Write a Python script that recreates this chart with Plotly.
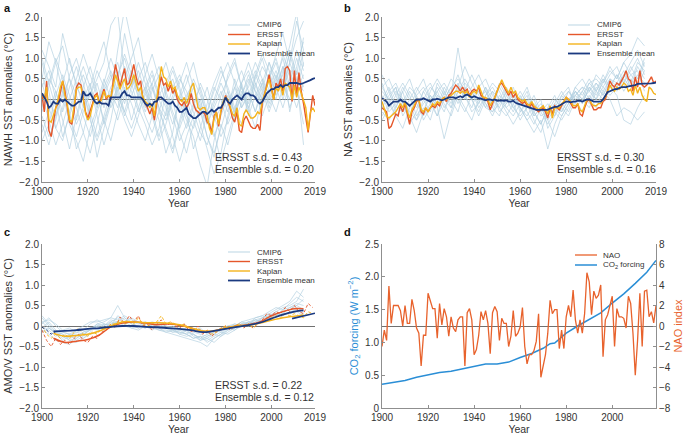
import plotly.graph_objects as go

# ---------------- data ----------------
YEARS = list(range(1900, 2020))
CMIP_YEARS = list(range(1900, 2015, 3))
X_TICKS = [1900, 1920, 1940, 1960, 1980, 2000, 2019]
X_TICKS_D = [1900, 1920, 1940, 1960, 1980, 2000]
SST_TICKS = [-2.0, -1.5, -1.0, -0.5, 0, 0.5, 1.0, 1.5, 2.0]
SST_TICK_TEXT = ["−2.0", "−1.5", "−1.0", "−0.5", "0", "0.5", "1.0", "1.5", "2.0"]
CO2_TICKS = [0, 0.5, 1.0, 1.5, 2.0, 2.5]
CO2_TICK_TEXT = ["0", "0.5", "1.0", "1.5", "2.0", "2.5"]
NAO_TICKS = [-8, -6, -4, -2, 0, 2, 4, 6, 8]
NAO_TICK_TEXT = ["−8", "−6", "−4", "−2", "0", "2", "4", "6", "8"]

# Panel a: NAWH SST anomalies
A_ERSST = [0.1, -0.3, 0.45, -0.75, -0.9, -0.5, -0.2, -0.1, 0.2, 0.45,
           0.2, -0.2, -0.55, -0.6, -0.3, 0.3, 0.4, 0.35, 0.0, -0.3,
           -0.45, -0.3, -0.1, 0.1, 0.15, -0.1, 0.05, 0.25, 0.0, 0.1,
           0.0, 0.4, 0.85, 0.6, 0.3, 0.55, 0.75, 0.35, 0.4, 0.6,
           0.85, 0.55, 0.35, 0.45, 0.0, -0.1, -0.2, -0.35, -0.2, -0.5,
           -0.1, 0.3, 0.55, 0.35, 0.4, 0.2, 0.35, 0.15, 0.25, 0.0,
           -0.1, -0.15, -0.05, -0.2, -0.1, 0.15, -0.1, -0.25, -0.3, -0.35,
           -0.3, -0.35, -0.55, -0.6, -0.8, -0.4, -0.3, -0.65, -0.3, -0.1,
           0.1, -0.05, -0.2, -0.45, -0.55, -0.3, -0.75, -0.8, -0.5, -0.4,
           -0.55, -0.65, -0.7, -0.7, -0.6, -0.75, -0.1, 0.1, 0.35, 0.6,
           0.3, 0.0, 0.4, 0.3, 0.5, 0.2, 0.75, 0.8, 0.7, -0.05,
           0.7, 0.1, 0.65, 0.2, -0.1, -0.5, -0.8, -0.35, 0.1, -0.15]
A_KAPLAN = [0.15, 0.0, 0.3, -0.5, -0.55, -0.4, -0.2, 0.0, 0.3, 0.45,
            0.1, -0.1, -0.5, -0.55, -0.2, 0.25, 0.3, 0.3, 0.0, -0.35,
            -0.5, -0.4, -0.15, 0.05, 0.1, -0.1, 0.0, 0.2, 0.05, 0.1,
            0.05, 0.3, 0.6, 0.45, 0.25, 0.4, 0.5, 0.25, 0.3, 0.4,
            0.6, 0.4, 0.2, 0.3, 0.05, -0.05, -0.1, -0.2, -0.1, -0.4,
            0.0, 0.4, 0.8, 0.55, 0.5, 0.3, 0.45, 0.25, 0.3, 0.1,
            0.0, -0.05, 0.05, -0.1, 0.05, 0.3, 0.4, 0.1, -0.2, -0.25,
            -0.2, -0.2, -0.4, -0.7, -0.85, -0.45, -0.3, -0.6, -0.25, -0.05,
            0.05, 0.0, -0.2, -0.35, -0.4, -0.2, -0.6, -0.65, -0.35, -0.25,
            -0.35, -0.45, -0.45, -0.4, -0.3, -0.35, -0.05, 0.1, 0.3, 0.5,
            0.25, 0.0, 0.3, 0.2, 0.35, 0.1, 0.4, 0.35, 0.3, 0.0,
            0.35, 0.05, 0.3, 0.15, 0.0, -0.2, -0.75, -0.3, -0.2, -0.3]
A_ENS = [0.15, 0.05, -0.05, -0.2, -0.15, -0.05, -0.1, -0.1, 0.0, -0.05,
         0.0, -0.05, -0.1, -0.15, -0.15, -0.1, -0.05, -0.05, 0.2, 0.1,
         0.1, 0.15, 0.05, -0.05, -0.1, -0.05, -0.1, -0.1, -0.1, -0.15,
         0.05, 0.05, 0.05, 0.05, 0.05, 0.15, 0.2, 0.1, 0.1, 0.05,
         0.05, 0.05, 0.05, 0.05, 0.0, -0.1, -0.15, -0.1, -0.15, -0.05,
         -0.05, 0.05, 0.05, 0.0, -0.05, -0.1, -0.1, -0.05, -0.15, -0.2,
         -0.3, -0.3, -0.25, -0.2, -0.35, -0.4, -0.45, -0.45, -0.4, -0.35,
         -0.3, -0.3, -0.35, -0.3, -0.25, -0.3, -0.25, -0.2, -0.2, -0.1,
         0.05, -0.05, -0.1, 0.0, 0.05, 0.1, 0.05, 0.0, 0.1, 0.15,
         0.15, 0.1, 0.1, 0.05, -0.05, -0.1, -0.05, 0.05, 0.15, 0.2,
         0.25, 0.25, 0.3, 0.3, 0.35, 0.3, 0.35, 0.35, 0.4, 0.4,
         0.4, 0.4, 0.38, 0.38, 0.4, 0.42, 0.45, 0.47, 0.5, 0.52]
A_CMIP6 = [
    [1.2, 0.8, 0.3, 1.6, 0.9, 0.4, -0.2, 0.1, 0.5, 0.9, 1.8, 2.1, 0.6, 0.2, -0.3, 0.1, 0.4, -0.2, -0.5, 0.0,
     -0.8, -1.3, -0.6, -0.2, 0.3, -0.4, -0.9, -0.5, 0.1, 0.4, -0.2, 0.3, 0.8, 0.5, 1.1, 1.6, 0.9, 1.9, 1.2],
    [-0.4, -0.9, -0.5, 0.2, -0.3, -1.2, -0.8, -0.1, 0.4, -0.2, 0.3, 0.6, 1.0, 0.4, -0.2, -0.6, -1.1, -0.7, 0.2, 0.5,
     -0.1, -0.5, -0.9, -1.6, -2.1, -1.0, -0.3, 0.2, -0.4, 0.1, 0.6, 0.2, -0.1, 0.5, 0.9, 0.3, 1.2, 0.6, 1.5],
    [0.5, 1.4, 0.9, 0.2, -0.6, -1.0, -1.5, -0.7, -0.2, 0.3, 0.7, 0.2, -0.4, 0.1, 0.5, 0.9, 0.3, -0.3, -0.7, -1.2,
     -0.5, 0.1, 0.4, -0.3, -0.9, -1.4, -0.6, -1.1, -0.4, 0.2, -0.2, -0.7, 0.1, 0.6, 0.2, 0.8, -0.3, 0.5, -1.1],
    [-0.8, -0.3, 0.2, -0.5, -1.2, -0.4, 0.3, 0.8, 0.2, -0.6, 0.0, 1.2, 2.2, 1.4, 0.5, -0.1, 0.4, 0.8, 0.1, -0.4,
     -1.0, -0.6, -0.1, 0.3, -0.3, 0.2, 0.7, 0.3, -0.2, -0.6, 0.0, 0.5, 1.0, 0.4, 0.0, 0.7, 1.3, 2.1, 0.8],
    [0.9, 0.2, -0.7, -0.2, 0.6, 1.0, 0.4, -0.3, -0.9, -0.4, 0.2, -0.2, 0.5, 1.0, 1.5, 0.6, 0.0, -0.5, -1.3, -0.8,
     0.1, 0.6, 0.0, -0.6, -1.2, -1.8, -1.3, -0.4, 0.3, 0.7, 0.2, -0.3, 0.2, 0.9, 0.3, -0.2, 0.4, 1.0, 0.5],
    [0.1, -0.5, -1.1, -0.6, 0.0, 0.5, 1.1, 0.6, 0.1, -0.5, -1.0, -0.3, 0.3, -0.1, -0.6, -1.0, -0.4, 0.4, 0.9, 0.3,
     -0.2, -0.7, -0.2, 0.4, 0.0, -0.5, -0.2, 0.6, 1.0, 0.3, -0.4, 0.1, 0.5, -0.1, 0.4, 1.1, 0.6, 0.2, 0.9],
    [-0.3, 0.3, 0.9, 1.3, 0.5, -0.2, -0.8, -1.3, -0.6, 0.1, 0.5, 0.9, 0.2, -0.5, 0.1, 0.6, 1.1, 0.5, -0.1, -0.6,
     0.0, 0.4, 0.9, 0.2, -0.4, -0.8, -1.5, -0.9, -0.3, 0.4, 0.9, 0.4, -0.2, 0.3, 0.7, 0.2, 0.9, 1.5, 1.9],
    [0.6, 0.0, -0.4, 0.4, 1.0, 0.3, 0.0, 0.4, -0.4, -1.1, -0.5, 0.4, 1.6, 0.8, 0.0, 0.3, -0.3, -0.9, -0.3, 0.3,
     0.6, 0.0, -0.5, -1.0, -0.3, 0.3, 0.0, -0.6, -0.2, 0.3, -0.3, 0.6, 1.1, 0.7, 0.1, 0.5, -0.2, 0.3, -0.6],
    [-1.0, -0.6, 0.1, 0.6, 0.1, -0.5, 0.2, -0.4, -1.4, -0.7, -0.1, 0.3, -0.3, -0.7, -0.2, 0.3, 0.7, 0.1, 0.4, 0.8,
     0.3, -0.3, -1.2, -0.7, -0.1, 0.4, 0.8, 0.2, -0.3, 0.1, 0.5, 0.0, 0.4, -0.2, 0.3, 0.8, 0.2, 0.7, 0.3],
    [0.3, 0.7, 0.0, -0.9, -0.4, 0.2, 0.6, 0.1, 0.7, 0.3, -0.2, 0.2, 0.8, 0.3, 0.9, 0.4, -0.2, 0.2, -0.2, -0.9,
     -1.5, -0.9, -0.4, 0.0, -0.6, -0.2, 0.2, -0.3, 0.5, 0.0, 0.3, 0.7, 0.3, 0.0, 0.5, 0.3, 0.9, 0.4, 1.2],
    [0.0, 0.4, 1.0, 0.5, -0.1, -0.6, -0.2, 0.3, 0.9, 1.4, 0.6, 0.0, -0.5, -0.9, -0.4, 0.2, 0.6, 0.0, -0.4, 0.1,
     0.5, 0.2, -0.3, -0.8, -1.1, -0.5, 0.1, 0.5, 0.9, 0.3, -0.1, 0.4, 0.0, 0.6, 1.0, 0.4, 0.0, 0.8, 1.4],
    [-0.6, -1.1, -0.4, 0.1, 0.5, 0.1, -0.4, -0.9, -0.3, 0.2, 0.6, 0.1, -0.3, 0.3, 0.7, 0.2, -0.4, -1.0, -0.6, 0.0,
     0.4, 0.9, 0.3, -0.2, -0.6, -0.1, 0.4, 0.0, -0.5, -0.1, 0.4, 0.9, 0.5, 0.1, -0.3, 0.3, 0.7, 0.2, 0.6],
    [0.4, -0.2, -0.7, -1.0, -0.3, 0.3, 0.8, 0.3, -0.2, 0.4, 1.0, 0.5, -0.1, 0.5, 0.1, -0.4, -0.8, -0.3, 0.3, 0.7,
     0.2, -0.4, -0.7, -0.2, -0.9, -1.3, -0.7, -0.1, 0.3, -0.2, 0.2, -0.3, 0.4, 0.9, 0.5, 1.0, 0.3, -0.2, 0.4],
    [-0.2, 0.5, 0.2, -0.3, 0.3, 0.8, 0.2, -0.5, -1.0, -0.5, 0.0, 0.6, 1.1, 0.6, 0.2, -0.3, 0.2, 0.6, 0.2, -0.3,
     -0.7, -0.2, 0.3, -0.1, -0.5, 0.0, 0.5, 0.9, 0.4, -0.2, 0.1, 0.6, 0.2, -0.3, 0.2, 0.6, 1.1, 0.5, 0.2],
    [1.0, 0.4, -0.2, 0.3, -0.4, -0.9, -0.3, 0.2, -0.1, 0.5, 0.0, -0.5, 0.1, 0.7, 0.3, -0.2, 0.3, -0.2, -0.8, -1.3,
     -0.6, 0.0, 0.5, 0.1, -0.4, -0.9, -0.4, 0.1, -0.3, 0.4, 0.7, 0.2, -0.4, 0.1, 0.6, 0.0, 0.5, 1.2, 0.7],
]

# Panel b: NA SST anomalies
B_ERSST = [-0.2, -0.25, -0.3, -0.7, -0.65, -0.5, -0.35, -0.4, -0.15, -0.3,
           -0.1, -0.35, -0.6, -0.3, -0.2, -0.05, 0.0, -0.3, -0.35, -0.2,
           -0.3, -0.2, -0.15, -0.2, -0.1, -0.15, 0.0, 0.05, -0.05, 0.1,
           0.15, 0.25, 0.35, 0.3, 0.2, 0.3, 0.2, 0.25, 0.1, 0.2,
           0.25, 0.2, 0.3, 0.1, 0.05, 0.0, -0.05, -0.25, -0.1, 0.0,
           0.15, 0.35, 0.4, 0.3, 0.2, 0.1, 0.2, 0.05, 0.15, 0.0,
           -0.05, -0.1, -0.05, -0.15, -0.2, -0.1, -0.2, -0.25, -0.3, -0.25,
           -0.2, -0.3, -0.45, -0.2, -0.35, -0.15, -0.2, -0.25, -0.15, -0.05,
           0.05, 0.0, -0.1, -0.2, -0.2, -0.1, -0.35, -0.4, -0.2, -0.05,
           0.0, -0.15, -0.25, -0.25, -0.2, -0.2, -0.05, 0.0, 0.2, 0.45,
           0.35, 0.3, 0.4, 0.35, 0.45, 0.55, 0.7, 0.5, 0.45, 0.2,
           0.55, 0.3, 0.7, 0.35, 0.3, 0.35, 0.45, 0.55, 0.4, 0.45]
B_KAPLAN = [-0.05, -0.2, -0.4, -0.45, -0.4, -0.35, -0.3, -0.2, -0.1, -0.2,
            -0.05, -0.3, -0.45, -0.25, -0.15, 0.0, 0.0, -0.25, -0.3, -0.2,
            -0.3, -0.2, -0.1, -0.15, -0.05, -0.1, 0.0, 0.05, 0.0, 0.05,
            0.1, 0.15, 0.2, 0.2, 0.15, 0.2, 0.15, 0.2, 0.05, 0.15,
            0.2, 0.15, 0.35, 0.2, 0.05, 0.05, 0.0, -0.15, -0.05, 0.05,
            0.2, 0.35, 0.48, 0.35, 0.25, 0.15, 0.3, 0.15, 0.2, 0.05,
            0.0, -0.05, 0.0, -0.1, -0.15, -0.05, -0.15, -0.2, -0.25, -0.2,
            -0.15, -0.25, -0.35, -0.15, -0.45, -0.2, -0.2, -0.2, -0.1, -0.05,
            0.05, 0.0, -0.05, -0.15, -0.15, -0.1, -0.25, -0.3, -0.15, 0.0,
            0.0, -0.1, -0.15, -0.15, -0.1, -0.1, 0.0, 0.05, 0.2, 0.35,
            0.25, 0.2, 0.3, 0.25, 0.3, 0.4, 0.35, 0.2, 0.25, 0.1,
            0.35, 0.15, 0.3, 0.1, 0.0, -0.05, 0.3, 0.25, 0.15, 0.12]
B_ENS = [0.03, 0.0, -0.05, -0.15, -0.1, -0.05, -0.05, -0.05, 0.0, -0.05,
         -0.05, -0.1, -0.15, -0.1, -0.05, 0.0, 0.0, 0.0, 0.03, 0.0,
         -0.03, -0.05, 0.0, 0.0, 0.02, 0.0, -0.02, 0.0, 0.02, 0.05,
         0.05, 0.05, 0.03, 0.05, 0.08, 0.05, 0.1, 0.12, 0.08, 0.05,
         0.08, 0.05, 0.03, 0.02, 0.0, -0.02, 0.0, 0.0, -0.02, 0.0,
         -0.03, -0.02, -0.02, -0.03, -0.02, -0.05, -0.05, -0.03, -0.08, -0.1,
         -0.12, -0.13, -0.15, -0.18, -0.2, -0.22, -0.23, -0.25, -0.25, -0.25,
         -0.25, -0.25, -0.25, -0.22, -0.2, -0.18, -0.18, -0.15, -0.12, -0.08,
         -0.05, -0.05, -0.07, -0.05, -0.05, -0.03, -0.03, -0.05, -0.02, 0.0,
         0.0, -0.02, -0.05, -0.05, -0.05, -0.05, 0.0, 0.1, 0.18, 0.2,
         0.22, 0.25, 0.25, 0.28, 0.3, 0.3, 0.3, 0.32, 0.33, 0.35,
         0.35, 0.38, 0.38, 0.38, 0.38, 0.38, 0.38, 0.39, 0.4, 0.41]
B_CMIP6 = [
    [0.6, 0.2, -0.3, -0.1, 0.3, 0.1, -0.5, -0.2, 0.2, 0.4, 0.1, 1.25, 0.3, 0.0, -0.3, 0.1, 0.4, 0.2, -0.2, -0.4,
     -0.1, 0.2, -0.3, -0.6, -0.2, 0.1, -0.3, 0.0, 0.2, -0.1, 0.3, 0.1, 0.4, 0.7, 0.5, 0.9, 1.1, 1.5, 1.3],
    [-0.3, -0.5, -0.2, 0.2, -0.4, -0.8, -0.3, 0.1, -0.2, -0.95, -0.3, 0.2, 0.5, 0.2, -0.1, 0.3, -0.2, -0.4, 0.1, 0.3,
     -0.2, -0.5, -0.8, -0.5, -1.2, -0.6, -0.2, -0.4, 0.0, -0.3, 0.1, -0.2, 0.2, 0.5, 0.3, 0.6, 0.9, 1.2, 0.8],
    [0.3, 0.5, 0.1, -0.3, 0.0, 0.3, 0.0, -0.3, 0.4, 0.1, 0.5, 0.3, 0.8, 0.4, 0.1, -0.2, 0.2, 0.0, -0.3, -0.6,
     -0.3, 0.0, -0.4, -0.2, -0.5, -0.9, -0.4, -0.1, 0.1, 0.3, 0.0, 0.4, 0.2, 0.0, -0.4, -0.2, -0.3, -0.5, -0.3],
    [-0.1, 0.2, 0.4, 0.0, -0.6, -0.3, 0.2, 0.4, 0.0, -0.3, 0.2, 0.6, 0.1, -0.2, 0.3, 0.5, 0.1, -0.2, 0.2, -0.1,
     -0.5, -0.2, 0.1, -0.3, -0.1, -0.4, 0.1, 0.3, -0.2, 0.0, 0.4, 0.5, 0.3, 0.6, 0.8, 0.4, 0.7, 1.0, 0.6],
    [0.4, -0.1, -0.4, -0.7, -0.2, 0.2, 0.5, 0.0, -0.4, 0.0, 0.3, -0.1, 0.2, 0.6, 0.2, -0.1, -0.4, 0.0, 0.3, 0.0,
     -0.2, -0.4, -0.1, -0.3, -0.6, -0.3, -0.5, -0.2, 0.2, 0.0, -0.2, 0.2, 0.6, 0.3, 0.1, -0.5, -0.6, -0.2, 0.1],
    [0.0, 0.3, -0.2, 0.2, 0.5, 0.0, -0.3, 0.2, 0.5, 0.2, -0.2, 0.4, 0.0, 0.3, 0.6, 0.2, -0.2, 0.3, 0.0, -0.3,
     0.1, -0.3, -0.6, -0.2, -0.4, -0.1, 0.2, -0.1, 0.3, 0.5, 0.2, 0.6, 0.4, 0.8, 0.5, 0.9, 0.6, 0.4, 0.9],
    [-0.5, -0.2, 0.1, 0.4, 0.1, -0.4, -0.1, 0.1, -0.2, 0.3, 0.0, -0.3, 0.3, 0.0, -0.4, 0.0, 0.2, -0.3, -0.1, 0.2,
     -0.3, -0.1, -0.5, -0.8, -0.3, 0.0, -0.2, 0.2, -0.1, 0.2, 0.5, 0.2, 0.0, 0.3, 0.6, 0.2, 0.5, 0.3, 0.7],
    [0.2, 0.0, 0.3, -0.4, -0.1, -0.5, -0.2, -0.5, 0.1, -0.1, -0.4, 0.1, -0.2, -0.5, 0.0, 0.2, -0.1, 0.4, 0.1, -0.2,
     0.0, 0.3, -0.2, 0.0, -0.7, -0.4, -0.1, -0.3, 0.1, -0.1, 0.3, 0.0, 0.5, 0.2, 0.4, 0.7, 0.3, 0.8, 0.5],
    [0.1, -0.3, -0.1, 0.3, 0.0, -0.2, 0.2, -0.1, -0.4, 0.2, -0.1, 0.3, 0.1, -0.3, -0.1, 0.3, 0.0, -0.2, -0.4, -0.1,
     0.2, -0.1, -0.3, -0.1, -0.4, -0.2, 0.1, -0.1, 0.3, 0.1, 0.4, 0.2, 0.5, 0.3, 0.6, 0.4, 0.8, 0.5, 1.0],
    [-0.2, 0.1, 0.3, -0.2, -0.4, 0.1, 0.3, 0.0, 0.2, -0.2, 0.1, 0.0, -0.3, 0.1, 0.2, -0.2, -0.3, 0.1, -0.1, 0.1,
     -0.2, -0.5, -0.3, -0.6, -0.2, -0.3, 0.0, 0.2, 0.0, 0.2, -0.1, 0.3, 0.1, 0.4, 0.2, 0.5, 0.3, 0.6, 0.4],
    [0.3, 0.0, -0.4, -0.2, 0.2, -0.1, -0.4, -0.1, 0.3, 0.0, 0.3, 0.5, 0.2, 0.0, 0.2, -0.1, -0.3, -0.1, 0.2, -0.2,
     -0.4, -0.2, 0.0, -0.4, -0.3, -0.1, -0.3, 0.0, 0.1, 0.3, 0.2, 0.0, 0.3, 0.1, 0.3, 0.6, 0.4, 0.9, 0.7],
    [-0.4, -0.1, 0.2, 0.0, -0.3, -0.5, 0.0, 0.3, 0.1, 0.0, -0.2, 0.2, 0.4, 0.2, -0.2, 0.1, 0.3, 0.0, -0.2, 0.0,
     -0.1, 0.1, -0.4, -0.2, -0.5, -0.2, -0.4, -0.1, 0.2, 0.0, 0.2, 0.4, 0.1, 0.5, 0.4, 0.3, 0.6, 0.7, 0.2],
]

# Panel c: AMO/V SST anomalies (low-pass filtered)
C_SMOOTH_YEARS = [1905, 1910, 1915, 1920, 1925, 1930, 1935, 1940, 1945, 1950, 1955, 1960,
                  1965, 1970, 1975, 1980, 1985, 1990, 1995, 2000, 2005, 2010, 2014]
C_ERSST_SMOOTH = [-0.3, -0.4, -0.37, -0.33, -0.22, -0.02, 0.07, 0.1, 0.07, 0.03, 0.05, 0.02,
                  -0.05, -0.13, -0.12, -0.05, 0.0, 0.03, 0.1, 0.25, 0.35, 0.42, 0.42]
C_KAPLAN_SMOOTH = [-0.18, -0.25, -0.23, -0.2, -0.12, 0.0, 0.1, 0.1, 0.08, 0.08, 0.07, 0.03,
                   -0.05, -0.12, -0.12, -0.05, 0.0, 0.02, 0.07, 0.14, 0.2, 0.24, 0.27]
C_ENS_SMOOTH = [-0.13, -0.12, -0.1, -0.07, -0.05, -0.02, 0.0, 0.0, -0.02, -0.03, -0.05, -0.07,
                -0.1, -0.15, -0.12, -0.07, -0.02, 0.02, 0.08, 0.18, 0.28, 0.35, 0.38]
C_DASH_YEARS = list(range(1900, 2020, 2))
C_ERSST_DASH = [-0.1, -0.35, -0.5, -0.3, -0.45, -0.35, -0.45, -0.3, -0.2, -0.35,
                -0.4, -0.25, -0.3, -0.15, -0.1, 0.05, -0.05, 0.22, 0.05, 0.25,
                0.1, 0.25, 0.0, 0.05, -0.1, 0.05, 0.15, -0.05, 0.1, 0.0,
                -0.05, 0.05, -0.1, -0.15, 0.0, -0.2, -0.1, -0.25, -0.15, -0.05,
                0.0, -0.1, 0.0, 0.05, -0.05, 0.05, -0.05, 0.05, 0.15, 0.3,
                0.25, 0.35, 0.3, 0.45, 0.35, 0.5, 0.35, 0.3, 0.55, 0.45]
C_KAPLAN_DASH = [0.0, -0.2, -0.3, -0.2, -0.3, -0.2, -0.3, -0.15, -0.05, -0.2,
                 -0.25, -0.15, -0.2, -0.05, -0.1, 0.05, 0.05, 0.15, 0.05, 0.1,
                 0.05, 0.2, 0.05, 0.0, 0.05, 0.1, 0.25, 0.05, 0.1, 0.05,
                 0.0, 0.05, -0.05, -0.1, -0.05, -0.15, -0.1, -0.2, -0.15, -0.05,
                 0.0, -0.05, 0.0, 0.05, 0.0, 0.05, -0.05, 0.05, 0.1, 0.2,
                 0.2, 0.25, 0.2, 0.3, 0.25, 0.3, 0.25, 0.2, 0.35, 0.3]
C_ENS_HEAD_YEARS = [1900, 1902, 1904, 1906]
C_ENS_HEAD = [-0.03, -0.1, -0.2, -0.14]
C_ENS_TAIL_YEARS = [2009, 2014, 2019]
C_ENS_TAIL = [0.18, 0.24, 0.31]
C_CMIP6 = [
    [0.2, 0.0, -0.2, -0.3, -0.2, -0.1, 0.0, 0.1, 0.1, 0.15, 0.2, 0.5, 0.2, 0.1, 0.05, 0.1, 0.0, 0.0, -0.05, -0.1,
     -0.15, -0.2, -0.1, -0.05, -0.2, -0.15, -0.05, 0.0, 0.05, 0.0, 0.1, 0.15, 0.2, 0.3, 0.4, 0.5, 0.6, 0.85, 0.7],
    [-0.1, -0.2, -0.35, -0.4, -0.45, -0.3, -0.2, -0.1, 0.0, -0.05, 0.05, 0.1, 0.0, -0.05, -0.1, 0.0, -0.05, -0.1, -0.15, -0.2,
     -0.25, -0.3, -0.35, -0.4, -0.5, -0.3, -0.2, -0.1, -0.05, 0.0, 0.05, 0.1, 0.15, 0.25, 0.3, 0.35, 0.4, 0.45, 0.35],
    [0.1, 0.15, 0.05, -0.1, -0.05, -0.15, -0.2, -0.1, 0.05, 0.1, 0.2, 0.15, 0.25, 0.15, 0.1, 0.05, 0.1, 0.05, -0.05, 0.0,
     -0.1, -0.05, -0.15, -0.2, -0.25, -0.2, -0.1, -0.05, 0.0, 0.05, 0.0, 0.1, 0.2, 0.25, 0.35, 0.45, 0.5, 0.6, 0.9],
    [-0.05, 0.1, -0.1, -0.2, -0.3, -0.25, -0.15, -0.05, -0.1, 0.0, 0.1, 0.05, 0.1, 0.2, 0.1, 0.0, -0.05, 0.05, 0.0, -0.1,
     -0.05, -0.15, -0.2, -0.3, -0.35, -0.25, -0.15, -0.2, -0.1, 0.0, 0.1, 0.05, 0.1, 0.2, 0.3, 0.25, 0.35, 0.4, 0.3],
    [0.25, 0.05, -0.15, -0.25, -0.35, -0.4, -0.3, -0.2, -0.15, 0.05, 0.0, 0.1, 0.2, 0.05, 0.0, -0.05, 0.05, 0.1, 0.0, -0.05,
     -0.1, -0.2, -0.3, -0.25, -0.3, -0.4, -0.25, -0.1, 0.0, 0.1, 0.15, 0.2, 0.25, 0.35, 0.45, 0.4, 0.55, 0.7, 0.6],
    [0.0, -0.1, -0.25, -0.15, -0.2, -0.35, -0.25, -0.05, 0.0, -0.1, 0.1, 0.2, 0.1, 0.0, -0.05, 0.05, 0.0, -0.1, -0.1, -0.15,
     -0.1, -0.1, -0.25, -0.35, -0.3, -0.2, -0.25, -0.15, -0.05, 0.05, 0.05, 0.15, 0.1, 0.2, 0.25, 0.3, 0.3, 0.35, 0.25],
    [-0.15, -0.05, -0.2, -0.35, -0.25, -0.15, -0.1, 0.05, 0.15, 0.05, 0.0, 0.1, 0.05, -0.05, 0.0, 0.1, 0.05, -0.05, -0.15, -0.1,
     -0.2, -0.25, -0.2, -0.3, -0.2, -0.1, -0.15, -0.05, 0.05, 0.0, 0.05, 0.2, 0.25, 0.2, 0.35, 0.3, 0.45, 0.5, 0.4],
    [0.1, -0.05, -0.15, -0.2, -0.35, -0.3, -0.15, -0.1, 0.05, 0.0, 0.15, 0.1, 0.05, 0.1, -0.05, 0.0, -0.1, 0.0, -0.05, -0.15,
     -0.15, -0.2, -0.3, -0.25, -0.4, -0.3, -0.2, -0.05, -0.1, 0.05, 0.1, 0.05, 0.2, 0.3, 0.25, 0.4, 0.45, 0.55, 0.5],
    [0.05, 0.2, 0.0, -0.15, -0.2, -0.2, -0.3, -0.15, 0.0, 0.05, 0.0, 0.25, 0.15, 0.05, 0.0, -0.05, 0.05, -0.05, 0.0, -0.05,
     -0.2, -0.1, -0.2, -0.35, -0.25, -0.15, -0.1, 0.0, 0.0, 0.1, 0.05, 0.15, 0.1, 0.2, 0.3, 0.35, 0.4, 0.5, 0.65],
]

# Panel d: NAO index and CO2 forcing
D_NAO = [-2.0, -0.4, -1.4, 3.9, 0.25, 2.0, 2.0, 2.0, 1.5, 0.0,
         2.0, 0.25, 0.25, 2.6, 1.5, -0.2, -0.7, -3.9, -0.9, -0.9,
         3.2, 2.5, 1.7, 1.7, -1.2, 2.2, 0.1, 1.7, 0.9, -1.0,
         0.9, -0.2, -0.55, 0.6, 0.9, 0.9, -3.9, 1.3, 1.7, 0.6,
         -2.8, -2.3, -0.9, 1.4, 0.6, 1.5, 0.25, -2.7, 1.3, 1.9,
         1.4, -1.4, 0.75, 0.25, 0.25, -2.0, -1.0, 1.5, -1.0, -0.7,
         -0.1, 1.8, -2.0, -3.7, -2.8, -2.8, -2.4, -1.5, 1.2, -5.0,
         -3.7, -2.8, -0.7, 2.5, 1.2, 1.6, 1.6, -2.2, -0.4, -2.2,
         0.9, 2.0, 0.9, 3.5, 0.6, -0.7, 0.6, -0.7, 1.2, 5.2,
         4.3, 1.1, 3.4, 2.7, 3.0, 4.0, -3.0, 0.6, 1.1, 2.0,
         2.9, -2.0, 1.7, 0.9, 0.9, 0.75, -0.2, 2.9, 2.2, -0.7,
         -4.8, -1.4, 3.2, -2.0, 3.4, 3.5, 0.9, 1.4, 0.3, 2.0]
D_CO2_YEARS = [1900, 1905, 1910, 1915, 1920, 1925, 1930, 1935, 1940, 1945, 1950, 1955, 1960,
               1965, 1970, 1973, 1975, 1980, 1985, 1990, 1995, 2000, 2005, 2010, 2015, 2019]
D_CO2 = [0.36, 0.39, 0.42, 0.47, 0.51, 0.54, 0.56, 0.60, 0.64, 0.67, 0.67, 0.70, 0.77,
         0.83, 0.91, 0.98, 0.99, 1.14, 1.25, 1.35, 1.45, 1.60, 1.74, 1.90, 2.07, 2.25]

# ---------------- styling ----------------
W, H = 685, 438
FONT = "Liberation Sans, Arial, sans-serif"
C_CMIP = "rgba(178,208,224,0.75)"
C_ERSST = "#e5572b"
C_KAPLAN = "#f4b31c"
C_ENS = "#1b3a80"
C_NAO = "#e8622c"
C_CO2 = "#2a8ed6"
AXIS_GREY = "#8f8f8f"
TXT = "#333333"

# panel boxes in pixels: (left, right), (top, bottom)
BOX = {
    "a": ((42, 315), (17, 182)),
    "b": ((382, 656), (17, 182)),
    "c": ((42, 315), (244, 408)),
    "d": ((382, 656), (244, 408)),
}


def xdom(p):
    l, r = BOX[p][0]
    return [l / W, r / W]


def ydom(p):
    t, b = BOX[p][1]
    return [1 - b / H, 1 - t / H]


def spaghetti(members, years):
    xs, ys = [], []
    for m in members:
        for yr, v in zip(years, m):
            xs.append(yr)
            ys.append(v)
        xs.append(None)
        ys.append(None)
    return xs, ys


fig = go.Figure()


def line(x, y, color, width, xa, ya, dash="solid", shape="linear", name=""):
    fig.add_trace(go.Scatter(x=x, y=y, mode="lines", name=name, showlegend=False,
                             line=dict(color=color, width=width, dash=dash, shape=shape),
                             xaxis=xa, yaxis=ya, hoverinfo="skip"))


# panel a
xs, ys = spaghetti(A_CMIP6, CMIP_YEARS)
line(xs, ys, C_CMIP, 0.9, "x", "y", name="CMIP6")
line(YEARS, A_ERSST, C_ERSST, 1.4, "x", "y", name="ERSST")
line(YEARS, A_KAPLAN, C_KAPLAN, 1.4, "x", "y", name="Kaplan")
line(YEARS, A_ENS, C_ENS, 1.8, "x", "y", name="Ensemble mean")

# panel b
xs, ys = spaghetti(B_CMIP6, CMIP_YEARS)
line(xs, ys, C_CMIP, 0.9, "x2", "y2", name="CMIP6")
line(YEARS, B_ERSST, C_ERSST, 1.4, "x2", "y2", name="ERSST")
line(YEARS, B_KAPLAN, C_KAPLAN, 1.4, "x2", "y2", name="Kaplan")
line(YEARS, B_ENS, C_ENS, 1.8, "x2", "y2", name="Ensemble mean")

# panel c
xs, ys = spaghetti(C_CMIP6, CMIP_YEARS)
line(xs, ys, C_CMIP, 0.9, "x3", "y3", name="CMIP6")
line(C_DASH_YEARS, C_ERSST_DASH, C_ERSST, 0.9, "x3", "y3", dash="3px,2px", name="ERSST")
line(C_DASH_YEARS, C_KAPLAN_DASH, C_KAPLAN, 0.9, "x3", "y3", dash="3px,2px", name="Kaplan")
line(C_ENS_HEAD_YEARS, C_ENS_HEAD, C_ENS, 1.0, "x3", "y3", dash="3px,2px", name="Ensemble mean")
line(C_SMOOTH_YEARS, C_ERSST_SMOOTH, C_ERSST, 1.5, "x3", "y3", shape="spline", name="ERSST")
line(C_SMOOTH_YEARS, C_KAPLAN_SMOOTH, C_KAPLAN, 1.5, "x3", "y3", shape="spline", name="Kaplan")
line(C_SMOOTH_YEARS, C_ENS_SMOOTH, C_ENS, 1.8, "x3", "y3", shape="spline", name="Ensemble mean")
line(C_ENS_TAIL_YEARS, C_ENS_TAIL, C_ENS, 1.6, "x3", "y3", name="Ensemble mean")

# panel d
line(YEARS, D_NAO, C_NAO, 1.3, "x4", "y5", name="NAO")
line(D_CO2_YEARS, D_CO2, C_CO2, 1.5, "x4", "y4", name="CO2 forcing")

common = dict(showline=True, linecolor=AXIS_GREY, linewidth=1, ticks="inside", ticklen=3,
              tickcolor=AXIS_GREY, tickwidth=1, showgrid=False, zeroline=False, automargin=False,
              tickfont=dict(family=FONT, size=10, color=TXT), fixedrange=True)


def xaxis(p, anchor, ticks):
    return dict(common, domain=xdom(p), anchor=anchor, range=[1900, 2019],
                tickmode="array", tickvals=ticks, ticktext=[str(t) for t in ticks],
                title=dict(text="Year", font=dict(family=FONT, size=10.5, color=TXT), standoff=3))


def sst_yaxis(p, anchor, title):
    return dict(common, domain=ydom(p), anchor=anchor, range=[-2, 2],
                tickmode="array", tickvals=SST_TICKS, ticktext=SST_TICK_TEXT,
                zeroline=True, zerolinecolor="#707070", zerolinewidth=1,
                title=dict(text=title, font=dict(family=FONT, size=11, color=TXT), standoff=4))


fig.update_layout(
    width=W, height=H, margin=dict(l=0, r=0, t=0, b=0, autoexpand=False),
    paper_bgcolor="white", plot_bgcolor="white", showlegend=False,
    font=dict(family=FONT, color=TXT),
    xaxis=xaxis("a", "y", X_TICKS),
    yaxis=sst_yaxis("a", "x", "NAWH SST anomalies (°C)"),
    xaxis2=xaxis("b", "y2", X_TICKS),
    yaxis2=sst_yaxis("b", "x2", "NA SST anomalies (°C)"),
    xaxis3=xaxis("c", "y3", X_TICKS),
    yaxis3=sst_yaxis("c", "x3", "AMO/V SST anomalies (°C)"),
    xaxis4=xaxis("d", "y4", X_TICKS_D),
    yaxis4=dict(common, domain=ydom("d"), anchor="x4", range=[0, 2.5],
                tickmode="array", tickvals=CO2_TICKS, ticktext=CO2_TICK_TEXT,
                title=dict(text="CO<sub>2</sub> forcing (W m<sup>−2</sup>)",
                           font=dict(family=FONT, size=11, color=C_CO2), standoff=4)),
    yaxis5=dict(common, domain=ydom("d"), anchor="x4", overlaying="y4", side="right",
                range=[-8, 8], tickmode="array", tickvals=NAO_TICKS, ticktext=NAO_TICK_TEXT,
                zeroline=True, zerolinecolor="#707070", zerolinewidth=1,
                title=dict(text="NAO index", font=dict(family=FONT, size=11, color=C_NAO), standoff=4)),
)


def add_key(xr, yr, x0, x1, xt, rows):
    for label, color, width, yy in rows:
        fig.add_shape(type="line", xref=xr, yref=yr, x0=x0, x1=x1, y0=yy, y1=yy,
                      line=dict(color=color, width=width))
        fig.add_annotation(xref=xr, yref=yr, x=xt, y=yy, text=label, showarrow=False,
                           xanchor="left", yanchor="middle",
                           font=dict(family=FONT, size=8, color=TXT))


def key_rows(p, xs_px, rows_px):
    (l, r), (t, b) = BOX[p]
    return ([(x - l) / (r - l) for x in xs_px],
            [1 - (y - t) / (b - t) for y in rows_px])


SST_KEYS = [("CMIP6", "rgba(178,208,224,0.9)", 1.0), ("ERSST", C_ERSST, 1.4),
            ("Kaplan", C_KAPLAN, 1.4), ("Ensemble mean", C_ENS, 1.8)]
for p, ax, xs_px, rows_px in [("a", "", (228, 250, 255), (25, 34.5, 44, 53.5)),
                              ("b", "2", (568, 590, 595), (25, 34.5, 44, 53.5)),
                              ("c", "3", (228, 250, 255), (252, 261.5, 271, 280.5))]:
    xk, yk = key_rows(p, xs_px, rows_px)
    add_key(f"x{ax} domain", f"y{ax} domain", xk[0], xk[1], xk[2],
            [(n, c, w, y) for (n, c, w), y in zip(SST_KEYS, yk)])

xk, yk = key_rows("d", (575, 597, 601), (255, 265))
add_key("x4 domain", "y4 domain", xk[0], xk[1], xk[2],
        [("NAO", C_NAO, 1.3, yk[0]), ("CO<sub>2</sub> forcing", C_CO2, 1.5, yk[1])])

# s.d. texts
SD_TEXT = {"a": ("ERSST s.d. = 0.43", "Ensemble s.d. = 0.20"),
           "b": ("ERSST s.d. = 0.30", "Ensemble s.d. = 0.16"),
           "c": ("ERSST s.d. = 0.22", "Ensemble s.d. = 0.12")}
SD_POS = {"a": ("", 213, (157, 169)), "b": ("2", 555, (157, 169)), "c": ("3", 213, (385, 397))}
for p, (ax, xpx, ypx) in SD_POS.items():
    (l, r), (t, b) = BOX[p]
    for txt, yy in zip(SD_TEXT[p], ypx):
        fig.add_annotation(xref=f"x{ax} domain", yref=f"y{ax} domain",
                           x=(xpx - l) / (r - l), y=1 - (yy - t) / (b - t),
                           text=txt, showarrow=False, xanchor="left", yanchor="middle",
                           font=dict(family=FONT, size=10.5, color=TXT))

# panel letters
for letter, xpx, ypx in [("a", 2, 8), ("b", 342, 8), ("c", 2, 232), ("d", 342, 232)]:
    fig.add_annotation(xref="paper", yref="paper", x=xpx / W, y=1 - ypx / H,
                       text=f"<b>{letter}</b>", showarrow=False, xanchor="left", yanchor="middle",
                       font=dict(family=FONT, size=11, color="#111"))

fig.write_html("out.html", config={"displayModeBar": False},
               post_script="document.body.style.margin='0';document.body.style.overflow='hidden';")
